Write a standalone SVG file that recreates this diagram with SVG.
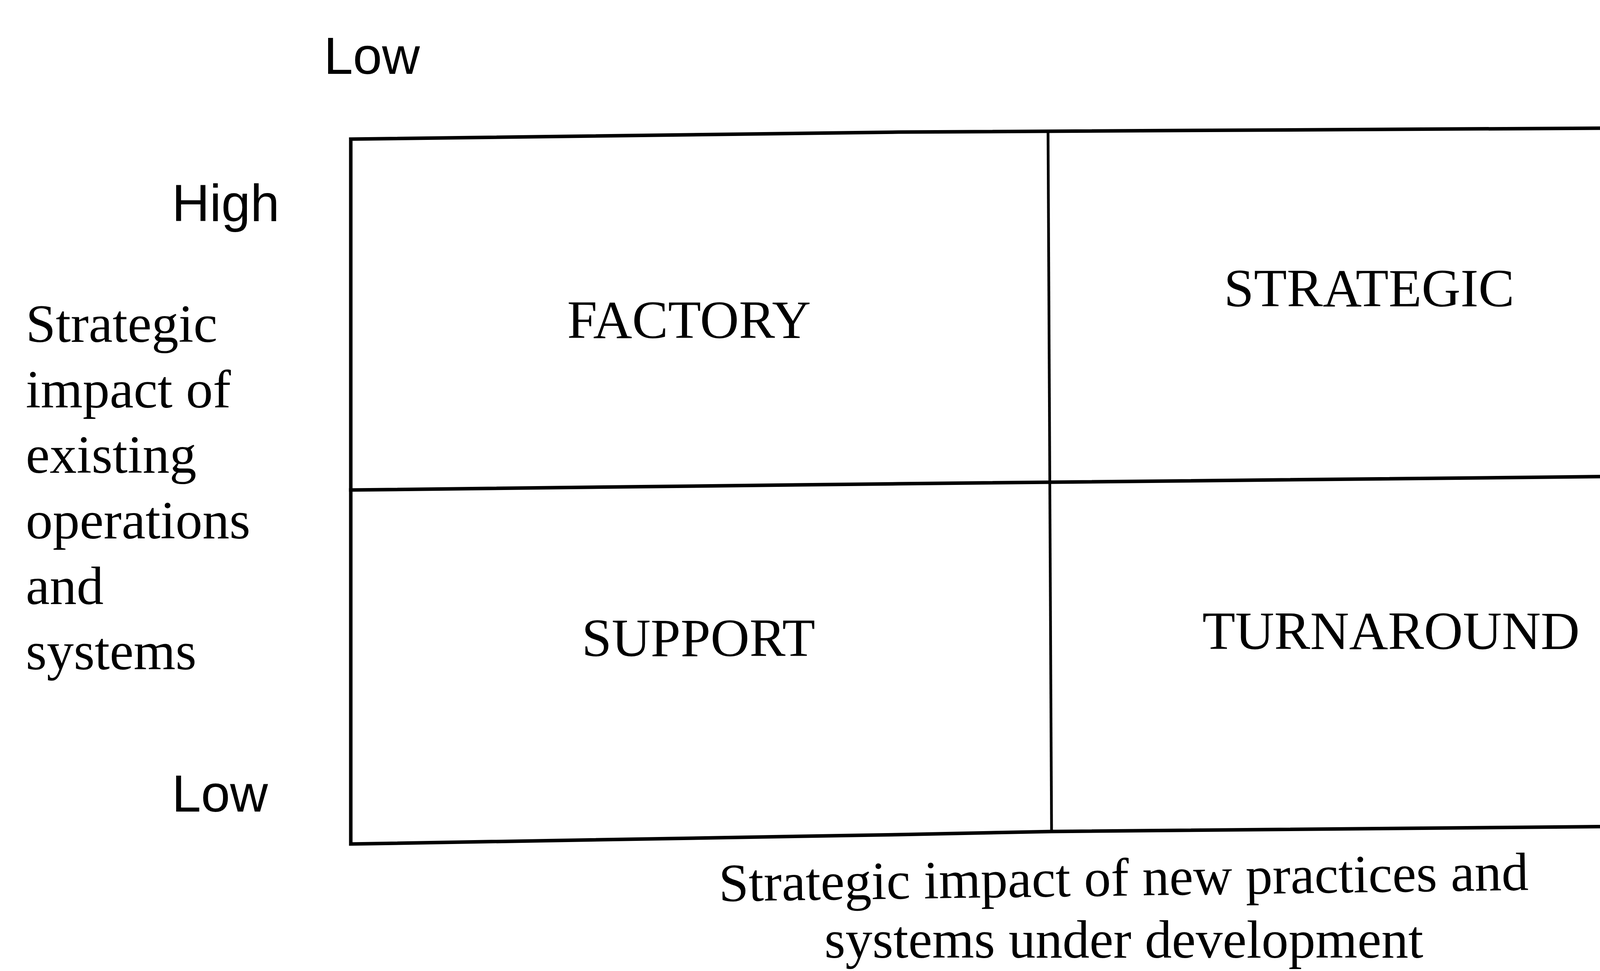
<svg xmlns="http://www.w3.org/2000/svg" width="4540" height="2485" viewBox="0 0 4540 2485">
<style>
.ln{fill:none;stroke:#000;stroke-width:9;stroke-linejoin:miter;stroke-linecap:square}
.in{fill:none;stroke:#000;stroke-width:7}
.sans{font-family:"Liberation Sans",Arial,sans-serif;font-size:134px;fill:#000}
.serif{font-family:"Liberation Serif","Times New Roman",serif;font-size:138px;fill:#000}
</style>
<rect width="4540" height="2485" fill="#fff"/>
<g id="connectors">
<polyline class="ln" points="898,356 2300,338 4464,326 4477,2112 2692,2128 2300,2136 898,2160 898,356"/>
<polyline class="ln" points="898,1254 2300,1238 4470,1216"/>
<polyline class="in" points="2683,340 2692,2128"/>
</g>
<g id="axis-labels">
<text class="sans" x="829" y="189">Low</text>
<text class="sans" x="4250" y="160" style="font-size:132px">High</text>
<text class="sans" x="440" y="566">High</text>
<text class="sans" x="440" y="2077">Low</text>
</g>
<g id="y-title">
<text class="serif" x="66" y="875">Strategic</text>
<text class="serif" x="66" y="1043">impact of</text>
<text class="serif" x="66" y="1210">existing</text>
<text class="serif" x="66" y="1378">operations</text>
<text class="serif" x="66" y="1546">and</text>
<text class="serif" x="66" y="1713">systems</text>
</g>
<g id="x-title">
<text class="serif" x="2877" y="2292" text-anchor="middle" transform="rotate(-0.8 2877 2292)">Strategic impact of new practices and</text>
<text class="serif" x="2877" y="2451" text-anchor="middle">systems under development</text>
</g>
<g id="factory"><text class="serif" x="1764" y="865" text-anchor="middle">FACTORY</text></g>
<g id="strategic"><text class="serif" x="3505" y="784" text-anchor="middle">STRATEGIC</text></g>
<g id="support"><text class="serif" x="1788" y="1679" text-anchor="middle">SUPPORT</text></g>
<g id="turnaround"><text class="serif" x="3561" y="1661" text-anchor="middle">TURNAROUND</text></g>
</svg>
